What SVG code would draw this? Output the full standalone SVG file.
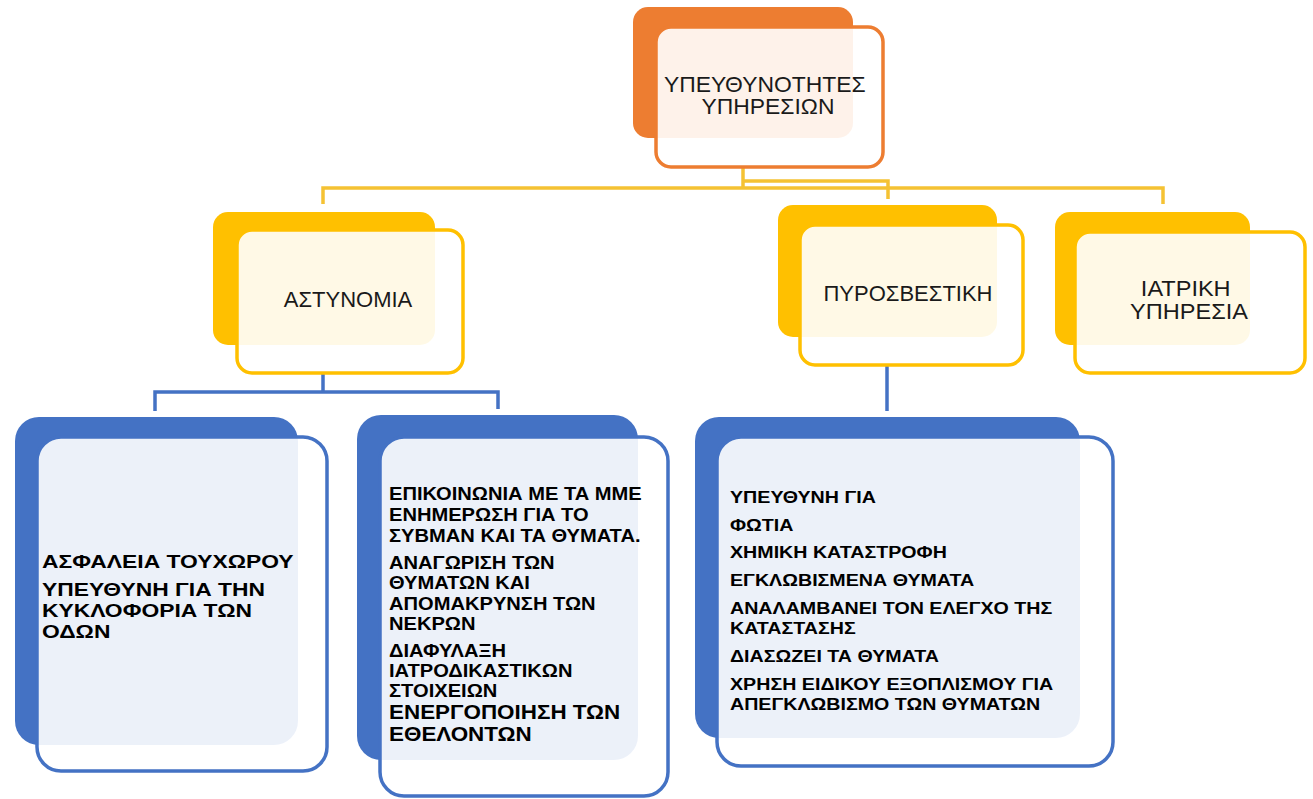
<svg xmlns="http://www.w3.org/2000/svg" width="1313" height="799" viewBox="0 0 1313 799">
<style>
.bg{fill:#fff}
.ob{fill:#ED7D31}
.of{fill:#fff;fill-opacity:0.9;stroke:#ED7D31;stroke-width:3.5}
.yb{fill:#FFC000}
.yf{fill:#fff;fill-opacity:0.9;stroke:#FFC000;stroke-width:3.5}
.bb{fill:#4472C4}
.bf{fill:#fff;fill-opacity:0.9;stroke:#4472C4;stroke-width:3.5}
.yl{fill:none;stroke:#F5C233;stroke-width:3.5}
.bl{fill:none;stroke:#4472C4;stroke-width:3.5}
.t{font-family:"Liberation Sans",Arial,sans-serif;font-size:22px;fill:#1a1a1a;text-anchor:middle}
.b{font-family:"Liberation Sans",Arial,sans-serif;font-weight:bold;fill:#000}
</style>
<rect class="bg" x="0" y="0" width="1313" height="799"/>
<g id="connectors">
<path class="yl" d="M743,167 V188"/>
<path class="yl" d="M323,204 V188 H1163 V204"/>
<path class="yl" d="M743,181 H888 V199"/>
<path class="bl" d="M323,373 V392"/>
<path class="bl" d="M155,411 V392 H498 V409"/>
<path class="bl" d="M887,365 V411"/>
</g>
<g id="node-top">
<rect class="ob" x="633" y="7" width="220" height="131" rx="15"/>
<rect class="of" x="656" y="27" width="227" height="140" rx="15"/>
<text class="t" font-size="19" transform="translate(768,0) scale(1.04,1)">
<tspan x="0" y="92">ΥΠΕΥΘΥΝΟΤΗΤΕΣ</tspan>
<tspan x="0" y="114">ΥΠΗΡΕΣΙΩΝ</tspan>
</text>
</g>
<g id="node-police">
<rect class="yb" x="213" y="212" width="222" height="133" rx="15"/>
<rect class="yf" x="237" y="230" width="226" height="143" rx="15"/>
<text class="t" x="348" y="307" font-size="23">ΑΣΤΥΝΟΜΙΑ</text>
</g>
<g id="node-fire">
<rect class="yb" x="778" y="205" width="219" height="132" rx="15"/>
<rect class="yf" x="800" y="225" width="223" height="140" rx="15"/>
<text class="t" x="908" y="301" font-size="22.5">ΠΥΡΟΣΒΕΣΤΙΚΗ</text>
</g>
<g id="node-medical">
<rect class="yb" x="1055" y="212" width="195" height="133" rx="15"/>
<rect class="yf" x="1075" y="232" width="230" height="141" rx="15"/>
<text class="t" font-size="18.5" transform="translate(1189,0) scale(1.07,1)">
<tspan x="0" y="296">ΙΑΤΡΙΚΗ</tspan>
<tspan x="0" y="319">ΥΠΗΡΕΣΙΑ</tspan>
</text>
</g>
<g id="node-police-1">
<rect class="bb" x="15" y="417" width="283" height="328" rx="24"/>
<rect class="bf" x="37" y="437" width="290" height="334" rx="24"/>
<text class="b" font-size="18" transform="translate(42,0) scale(1.27,1)">
<tspan x="0" y="568">ΑΣΦΑΛΕΙΑ ΤΟΥΧΩΡΟΥ</tspan>
<tspan x="0" y="596">ΥΠΕΥΘΥΝΗ ΓΙΑ ΤΗΝ</tspan>
<tspan x="0" y="617">ΚΥΚΛΟΦΟΡΙΑ ΤΩΝ</tspan>
<tspan x="0" y="638">ΟΔΩΝ</tspan>
</text>
</g>
<g id="node-police-2">
<rect class="bb" x="357" y="415" width="281" height="345" rx="24"/>
<rect class="bf" x="380" y="437" width="288" height="359" rx="24"/>
<text class="b" font-size="17.5" transform="translate(389,0) scale(1.15,1)">
<tspan x="0" y="500">ΕΠΙΚΟΙΝΩΝΙΑ ΜΕ ΤΑ ΜΜΕ</tspan>
<tspan x="0" y="521">ΕΝΗΜΕΡΩΣΗ ΓΙΑ ΤΟ</tspan>
<tspan x="0" y="542">ΣΥΒΜΑΝ ΚΑΙ ΤΑ ΘΥΜΑΤΑ.</tspan>
<tspan x="0" y="569">ΑΝΑΓΩΡΙΣΗ ΤΩΝ</tspan>
<tspan x="0" y="589">ΘΥΜΑΤΩΝ ΚΑΙ</tspan>
<tspan x="0" y="610">ΑΠΟΜΑΚΡΥΝΣΗ ΤΩΝ</tspan>
<tspan x="0" y="630">ΝΕΚΡΩΝ</tspan>
<tspan x="0" y="657">ΔΙΑΦΥΛΑΞΗ</tspan>
<tspan x="0" y="677">ΙΑΤΡΟΔΙΚΑΣΤΙΚΩΝ</tspan>
<tspan x="0" y="697">ΣΤΟΙΧΕΙΩΝ</tspan>
<tspan x="0" y="719" font-size="19.5">ΕΝΕΡΓΟΠΟΙΗΣΗ ΤΩΝ</tspan>
<tspan x="0" y="741" font-size="19.5">ΕΘΕΛΟΝΤΩΝ</tspan>
</text>
</g>
<g id="node-fire-1">
<rect class="bb" x="695" y="417" width="385" height="321" rx="24"/>
<rect class="bf" x="717" y="437" width="396" height="329" rx="24"/>
<text class="b" font-size="17.4" transform="translate(730,0) scale(1.13,1)">
<tspan x="0" y="503">ΥΠΕΥΘΥΝΗ ΓΙΑ</tspan>
<tspan x="0" y="531">ΦΩΤΙΑ</tspan>
<tspan x="0" y="558">ΧΗΜΙΚΗ ΚΑΤΑΣΤΡΟΦΗ</tspan>
<tspan x="0" y="586">ΕΓΚΛΩΒΙΣΜΕΝΑ ΘΥΜΑΤΑ</tspan>
<tspan x="0" y="614">ΑΝΑΛΑΜΒΑΝΕΙ ΤΟΝ ΕΛΕΓΧΟ ΤΗΣ</tspan>
<tspan x="0" y="634">ΚΑΤΑΣΤΑΣΗΣ</tspan>
<tspan x="0" y="662">ΔΙΑΣΩΖΕΙ ΤΑ ΘΥΜΑΤΑ</tspan>
<tspan x="0" y="690">ΧΡΗΣΗ ΕΙΔΙΚΟΥ ΕΞΟΠΛΙΣΜΟΥ ΓΙΑ</tspan>
<tspan x="0" y="710">ΑΠΕΓΚΛΩΒΙΣΜΟ ΤΩΝ ΘΥΜΑΤΩΝ</tspan>
</text>
</g>
</svg>
